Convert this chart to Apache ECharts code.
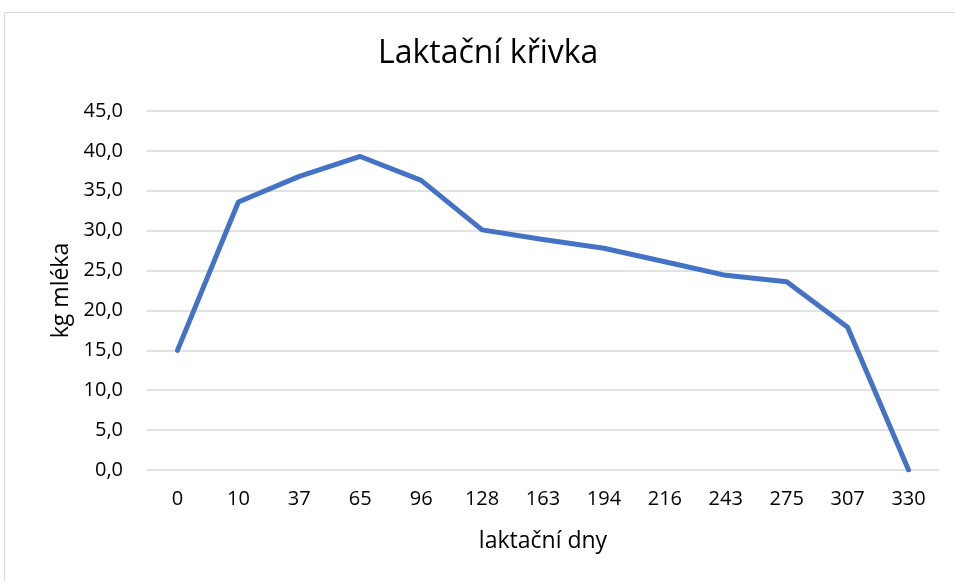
<!DOCTYPE html>
<html>
<head>
<meta charset="utf-8">
<script src="https://cdn.jsdelivr.net/npm/echarts@6/dist/echarts.min.js"></script>
</head>
<body style="margin:0; padding:0; background:#fff;">
<div id="chart" style="width:955px; height:581px;"></div>
<script type="text/javascript">
// laktační dny a denní nádoj (kg mléka)
var days = ['0', '10', '37', '65', '96', '128', '163', '194', '216', '243', '275', '307', '330'];
var milk = [15.0, 33.6, 36.8, 39.3, 36.3, 30.1, 28.9, 27.8, 26.1, 24.4, 23.6, 17.9, 0.0];

var font = 'Open Sans, Noto Sans, sans-serif';

var myChart = echarts.init(document.getElementById('chart'));
myChart.setOption({
	animation: false,
	title: {
		text: 'Laktační křivka',
		left: 378,
		top: 38,
		padding: 0,
		textStyle: { fontFamily: font, fontWeight: 'normal', fontSize: 32, color: '#000' }
	},
	graphic: [{
		type: 'rect',
		shape: { x: 4.5, y: 12.5, width: 960, height: 600 },
		style: { fill: 'none', stroke: '#d9d9d9', lineWidth: 1 },
		silent: true
	}],
	grid: { left: 147, right: 16, top: 111, bottom: 111 },
	xAxis: {
		type: 'category',
		data: days,
		boundaryGap: true,
		name: 'laktační dny',
		nameLocation: 'middle',
		nameGap: 60,
		nameTextStyle: { fontFamily: font, fontSize: 23, color: '#000' },
		axisLine: { show: false },
		axisTick: { show: false },
		axisLabel: { fontFamily: font, fontSize: 20, color: '#000', margin: 19, interval: 0 }
	},
	yAxis: {
		type: 'value',
		min: 0,
		max: 45,
		interval: 5,
		name: 'kg mléka',
		nameLocation: 'middle',
		nameGap: 73,
		nameTextStyle: { fontFamily: font, fontSize: 23, color: '#000' },
		axisLine: { show: false },
		axisTick: { show: false },
		axisLabel: {
			fontFamily: font, fontSize: 20, color: '#000', margin: 24,
			formatter: function (v) { return v.toFixed(1).replace('.', ','); }
		},
		splitLine: { lineStyle: { color: '#d9d9d9', width: 1.5 } }
	},
	series: [{
		type: 'line',
		data: milk,
		symbol: 'none',
		lineStyle: { color: '#4472c4', width: 5, cap: 'round', join: 'round' }
	}]
});
</script>
</body>
</html>
